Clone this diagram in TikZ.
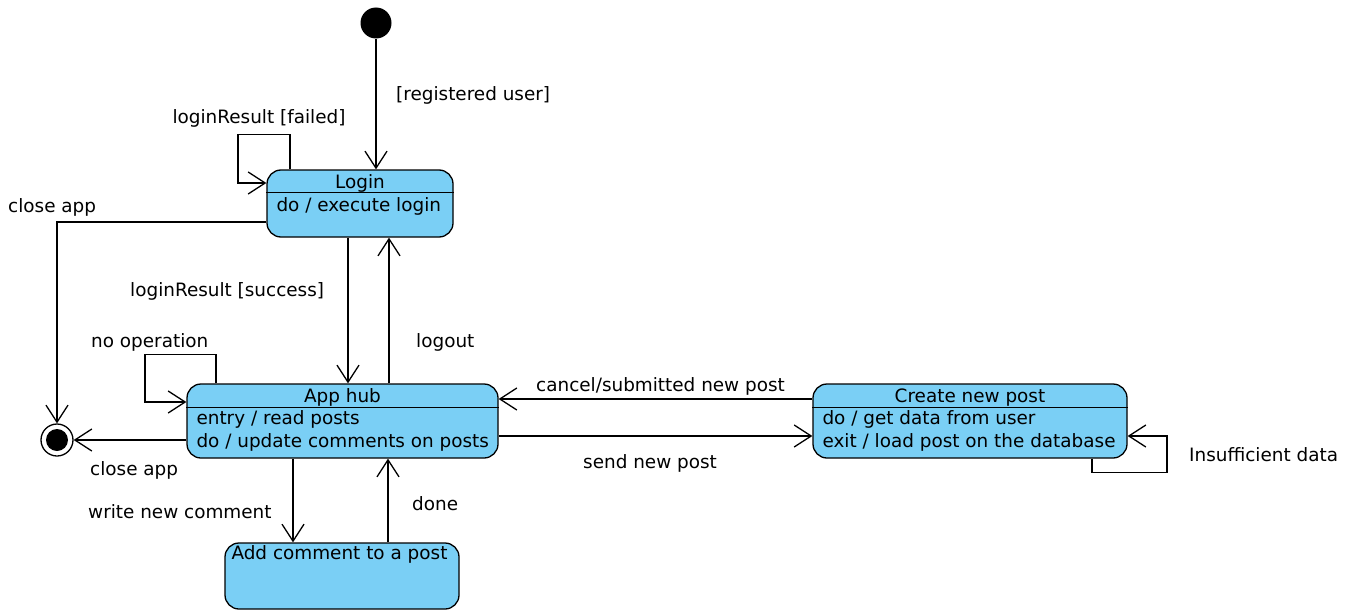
\documentclass[tikz,border=0pt]{standalone}
\usepackage{fontspec}
\setmainfont{DejaVu Sans}
\usepackage{tikz}
\usetikzlibrary{arrows.meta}
\definecolor{stateblue}{HTML}{7ACFF5}

\begin{document}
\begin{tikzpicture}[x=1pt, y=-1pt, font=\fontsize{18.4}{23}\selectfont,
        state/.style={draw, line width=1.3pt, fill=stateblue, rounded corners=14pt, inner sep=0pt},
        trans/.style={line width=1.3pt, -{Straight Barb[length=17pt,width=22pt,line width=1.3pt]}},
        lbl/.style={inner sep=0pt, text height=14pt, text depth=4pt},
        line/.style={inner sep=0pt, anchor=base west}]
        \useasboundingbox (0,0) rectangle (1351,610);

        % states
        \node[state, minimum width=186pt, minimum height=67pt] (login) at (360,203.5) {};
        \node[state, minimum width=311pt, minimum height=74pt] (hub) at (342.5,421) {};
        \node[state, minimum width=314pt, minimum height=74pt] (create) at (970,421) {};
        \node[state, minimum width=234pt, minimum height=66pt] (add) at (342,576) {};
        \node[circle, fill, minimum size=31pt, inner sep=0pt] (init) at (376,23) {};
        \node[circle, draw, line width=1.3pt, fill=white, minimum size=32pt, inner sep=0pt] (final) at (57,440) {};
        \fill (final) circle (11pt);

        % compartments
        \draw[line width=1.3pt] ([yshift=-23pt]login.north west) -- ([yshift=-23pt]login.north east);
        \draw[line width=1.3pt] ([yshift=-24pt]hub.north west) -- ([yshift=-24pt]hub.north east);
        \draw[line width=1.3pt] ([yshift=-24pt]create.north west) -- ([yshift=-24pt]create.north east);

        \node[inner sep=0pt, anchor=base] (loginname) at ([yshift=-19.5pt]login.north) {Login};
        \node[line] (logindo) at ([xshift=10pt,yshift=-42pt]login.north west) {do / execute login};
        \node[inner sep=0pt, anchor=base] (hubname) at ([yshift=-19.5pt]hub.north) {App hub};
        \node[line] (hubentry) at ([xshift=10pt,yshift=-41.5pt]hub.north west) {entry / read posts};
        \node[line] (hubdo) at ([xshift=10pt,yshift=-64.5pt]hub.north west) {do / update comments on posts};
        \node[inner sep=0pt, anchor=base] (createname) at ([yshift=-19.5pt]create.north) {Create new post};
        \node[line] (createdo) at ([xshift=10pt,yshift=-41.5pt]create.north west) {do / get data from user};
        \node[line] (createexit) at ([xshift=10pt,yshift=-64.5pt]create.north west) {exit / load post on the database};
        \node[inner sep=0pt, anchor=base] (addname) at ([xshift=-2.5pt,yshift=-17.5pt]add.north) {Add comment to a post};

        % transitions
        \draw[trans] (init.south) -- (init.south |- login.north);
        \draw[trans] ([xshift=-70pt]login.north) -- ++(0,-35) -- ++(-52,0) |- ([yshift=20.5pt]login.west);
        \draw[trans] ([yshift=-18.5pt]login.west) -| (final.north);
        \draw[trans] ([xshift=-12pt]login.south) -- ([xshift=-12pt]login.south |- hub.north);
        \draw[trans] ([xshift=46.5pt]hub.north) -- ([xshift=46.5pt]hub.north |- login.south);
        \draw[trans] ([xshift=-126.5pt]hub.north) -- ++(0,-29) -- ++(-71,0) |- ([yshift=19pt]hub.west);
        \draw[trans] ([yshift=-19pt]hub.west) -- (final.east);
        \draw[trans] ([xshift=-49.5pt]hub.south) -- ([xshift=-49.5pt]hub.south |- add.north);
        \draw[trans] ([xshift=46pt]add.north) -- ([xshift=46pt]add.north |- hub.south);
        \draw[trans] ([yshift=22pt]create.west) -- ([yshift=22pt]create.west -| hub.east);
        \draw[trans] ([yshift=-15pt]hub.east) -- ([yshift=-15pt]hub.east -| create.west);
        \draw[trans] ([xshift=122pt]create.south) -- ++(0,14) -- ++(75,0) |- ([yshift=-15pt]create.east);

        % labels
        \node[lbl, anchor=west] (registered) at (396,95) {[registered user]};
        \node[lbl] (failed) at (259,118) {loginResult [failed]};
        \node[lbl, anchor=west] (closelogin) at (8,207) {close app};
        \node[lbl, anchor=west] (success) at (130,291) {loginResult [success]};
        \node[lbl, anchor=west] (logout) at (416,342) {logout};
        \node[lbl, anchor=west] (noop) at (91,342) {no operation};
        \node[lbl, anchor=west] (closehub) at (90,470) {close app};
        \node[lbl, anchor=west] (write) at (88,513) {write new comment};
        \node[lbl, anchor=west] (done) at (412,505) {done};
        \node[lbl, anchor=west] (cancel) at (536,386) {cancel/submitted new post};
        \node[lbl, anchor=west] (send) at (583,463) {send new post};
        \node[lbl, anchor=west] (insufficient) at (1189,456) {Insufficient data};
\end{tikzpicture}
\end{document}
